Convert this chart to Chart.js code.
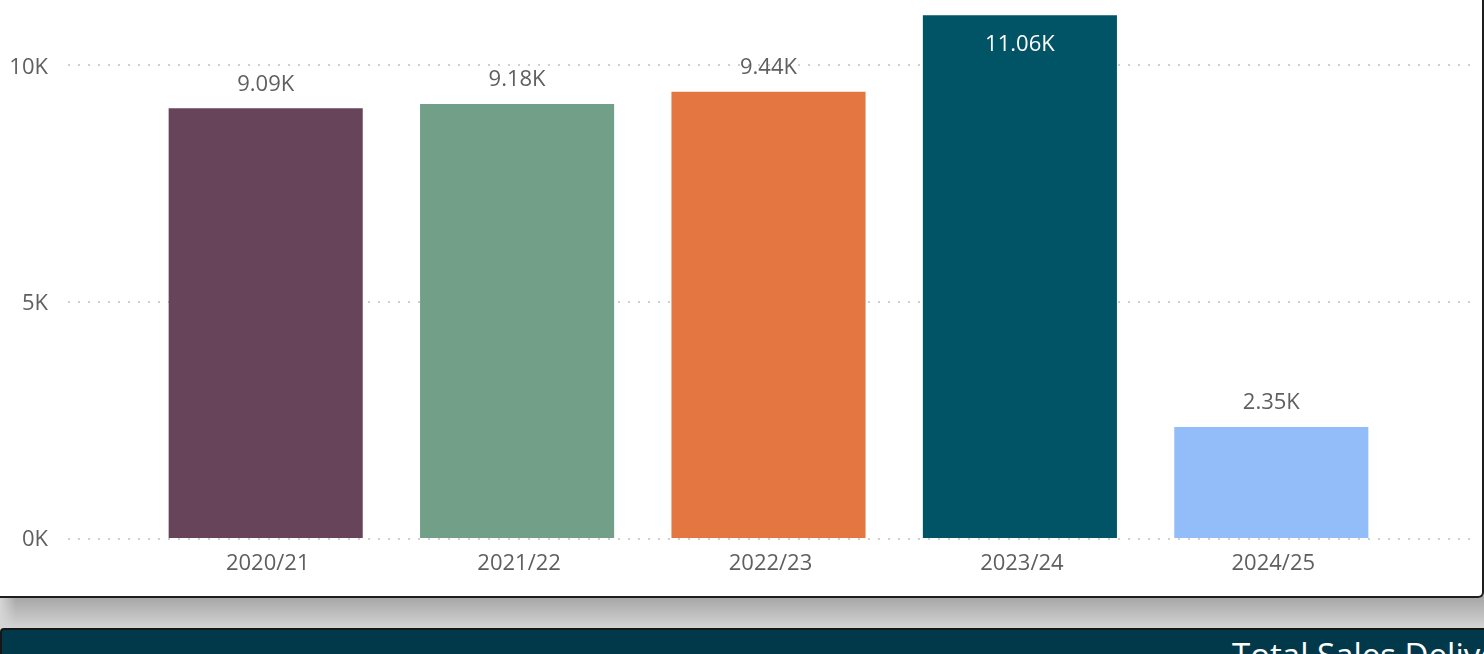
<!DOCTYPE html>
<html>
<head>
<meta charset="utf-8">
<script src="https://cdn.jsdelivr.net/npm/chart.js@4"></script>
<style>
  html, body { margin: 0; padding: 0; }
  body {
    width: 1484px; height: 654px; overflow: hidden; position: relative;
    background: linear-gradient(to bottom, #a6a6a6 0px, #a6a6a6 597px, #b0b0b0 604px, #d4d4d4 628px);
    font-family: 'Open Sans', sans-serif;
  }
  #shadeLeft {
    position: absolute; left: 0; top: 596px; width: 16px; height: 34px;
    background: linear-gradient(to right, #d6d6d6, rgba(214, 214, 214, 0));
  }
  #card {
    position: absolute; left: 0; top: 0; width: 1484px; height: 598px;
    box-sizing: border-box; background: #fff;
    border-right: 2px solid #1e1e1e; border-bottom: 2px solid #1e1e1e;
    border-bottom-right-radius: 6px;
  }
  #myChart { position: absolute; left: 0; top: 0; }
  #footer {
    position: absolute; left: 0; top: 628px; width: 1484px; height: 30px;
    background: #02394a; border-top: 2px solid #161616; border-left: 2px solid #161616;
    border-top-left-radius: 4px; box-sizing: border-box;
  }
  #footer span {
    position: absolute; left: 1230px; top: 8px; color: #fff;
    font-size: 33px; line-height: 33px; white-space: nowrap;
  }
</style>
</head>
<body>
<div id="shadeLeft"></div>
<div id="card"><canvas id="myChart" width="1482" height="596"></canvas></div>
<div id="footer"><span>Total Sales Delivered</span></div>
<script>
const ctx = document.getElementById('myChart').getContext('2d');

const labels = ['2020/21', '2021/22', '2022/23', '2023/24', '2024/25'];
const sales = [9090, 9180, 9440, 11060, 2350];
const barColors = ['#674459', '#719f88', '#e37641', '#015366', '#93bdf9'];
const yTicks = [0, 5000, 10000];

const fmtK = (v) => (v / 1000).toFixed(2) + 'K';

// dotted gridlines run wider than the category area
const dottedGrid = {
  id: 'dottedGrid',
  beforeDatasetsDraw(chart) {
    const y = chart.scales.y;
    const c = chart.ctx;
    c.save();
    c.strokeStyle = '#cfcfcf';
    c.lineWidth = 2;
    c.setLineDash([2, 8]);
    yTicks.forEach(v => {
      const py = Math.round(y.getPixelForValue(v)) + (v === 0 ? 1 : 0);
      c.beginPath();
      c.moveTo(68, py);
      c.lineTo(1472, py);
      c.stroke();
    });
    c.restore();
  }
};

const valueLabels = {
  id: 'valueLabels',
  afterDatasetsDraw(chart) {
    const c = chart.ctx;
    const meta = chart.getDatasetMeta(0);
    c.save();
    c.font = '22px "Open Sans"';
    c.textAlign = 'center';
    c.textBaseline = 'middle';
    meta.data.forEach((bar, i) => {
      const v = sales[i];
      if (bar.y < 60) {
        c.fillStyle = '#ffffff';
        c.fillText(fmtK(v), bar.x, bar.y + 30);
      } else {
        c.fillStyle = '#5f5f5f';
        c.fillText(fmtK(v), bar.x, bar.y - 24);
      }
    });
    c.restore();
  }
};

const config = {
  type: 'bar',
  data: {
    labels,
    datasets: [{
      data: sales,
      backgroundColor: barColors,
      categoryPercentage: 1,
      barPercentage: 0.772,
    }],
  },
  options: {
    responsive: false,
    animation: false,
    layout: { padding: { top: 0, right: 85, bottom: 0, left: 0 } },
    plugins: { legend: { display: false }, tooltip: { enabled: false } },
    scales: {
      x: {
        grid: { display: false, drawTicks: false },
        border: { display: false },
        ticks: {
          color: '#5f5f5f',
          font: { family: 'Open Sans', size: 22 },
          padding: 13,
          labelOffset: 2,
          maxRotation: 0,
        },
        afterFit: (axis) => { axis.height = 58; },
      },
      y: {
        min: 0,
        max: 11380,
        grid: { display: false, drawTicks: false },
        border: { display: false },
        afterBuildTicks: (axis) => { axis.ticks = yTicks.map(v => ({ value: v })); },
        ticks: {
          color: '#5f5f5f',
          font: { family: 'Open Sans', size: 22 },
          padding: 92,
          labelOffset: 2,
          callback: (value) => (value / 1000) + 'K',
        },
        afterFit: (axis) => {
          axis.width = 140;
          axis.paddingTop = 0;
          axis.paddingBottom = 0;
        },
      },
    },
  },
  plugins: [dottedGrid, valueLabels],
};

const myChart = new Chart(ctx, config);
</script>
</body>
</html>
